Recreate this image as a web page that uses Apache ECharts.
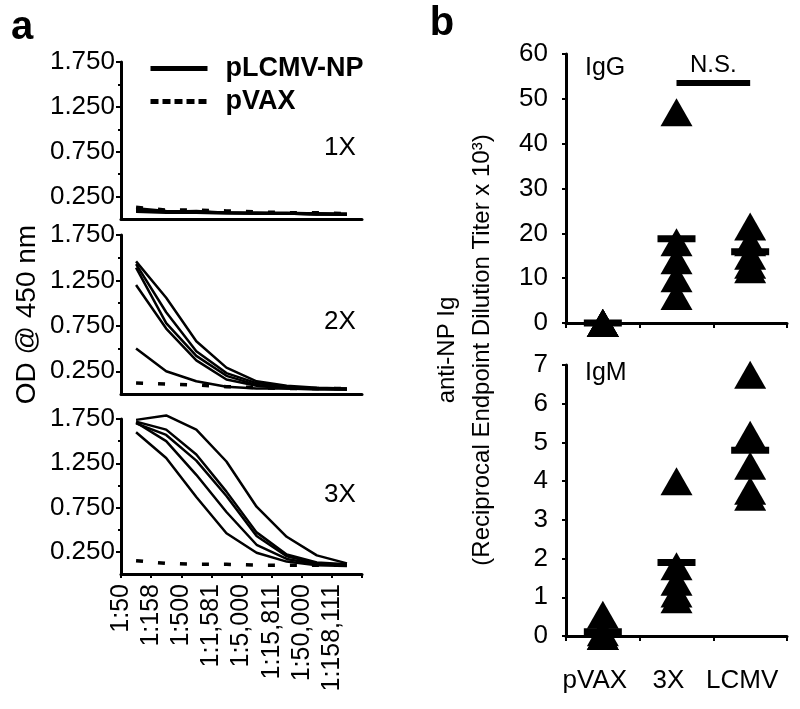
<!DOCTYPE html>
<html><head><meta charset="utf-8">
<script src="https://cdn.jsdelivr.net/npm/echarts@6/dist/echarts.min.js"></script>
<style>html,body{margin:0;padding:0;background:#fff}#c{width:800px;height:709px}</style>
</head><body><div id="c"></div>
<script>
// ---------- data: panel a (OD @ 450 nm by dilution) ----------
const dilutions = ['1:50','1:158','1:500','1:1,581','1:5,000','1:15,811','1:50,000','1:158,111'];
const odTicks = [0.25, 0.75, 1.25, 1.75];
const odMinorTicks = [0.5, 1.0, 1.5];

const np1X = [
  [0.10,0.08,0.08,0.07,0.07,0.07,0.06,0.06],
  [0.09,0.08,0.07,0.07,0.06,0.06,0.06,0.05],
  [0.12,0.09,0.08,0.07,0.07,0.06,0.06,0.05],
  [0.08,0.07,0.07,0.06,0.06,0.06,0.05,0.05],
  [0.11,0.08,0.09,0.07,0.06,0.06,0.05,0.05]
];
const pvax1X = [0.13,0.10,0.10,0.09,0.08,0.07,0.07,0.06];

const np2X = [
  [1.46,1.06,0.58,0.29,0.14,0.09,0.07,0.06],
  [1.43,0.90,0.47,0.23,0.12,0.08,0.06,0.06],
  [1.39,0.78,0.42,0.20,0.10,0.07,0.06,0.05],
  [1.20,0.72,0.37,0.16,0.09,0.06,0.06,0.05],
  [0.50,0.25,0.14,0.08,0.06,0.06,0.05,0.05]
];
const pvax2X = [0.12,0.11,0.10,0.08,0.07,0.06,0.06,0.06];

const np3X = [
  [1.74,1.79,1.63,1.27,0.76,0.42,0.21,0.12],
  [1.72,1.63,1.35,0.93,0.47,0.22,0.13,0.11],
  [1.70,1.57,1.28,0.88,0.43,0.20,0.12,0.10],
  [1.71,1.50,1.12,0.70,0.33,0.17,0.11,0.10],
  [1.60,1.31,0.87,0.46,0.24,0.14,0.10,0.09]
];
const pvax3X = [0.15,0.12,0.11,0.11,0.10,0.10,0.10,0.10];

// ---------- data: panel b (anti-NP Ig titers x 10^3) ----------
const groups = ['pVAX','3X','LCMV'];
const igG_pVAX = [0,0,0,0,0];
const igG_3X   = [47,18,14,10,6];
const igG_LCMV = [21.5,18,15,13,12];
const igG_mean = [0,18.8,15.9];
const igM_pVAX = [0.55,0.1,0,0,0];
const igM_3X   = [4.0,1.8,1.4,1.1,0.95];
const igM_LCMV = [6.75,5.2,4.4,3.75,3.6];
const igM_mean = [0.11,1.9,4.8];
const nsPair = ['3X','LCMV'];
const nsLevel = 53.5;

// ---------- chart ----------
const FONT = 'Liberation Sans, Arial, Helvetica, sans-serif';
const BLACK = '#000';
const chart = echarts.init(document.getElementById('c'));

const toXY = vals => vals.map((v,i) => [i + 0.5, v]);

const aGrids = [
  {left:121, top:62, width:241, height:157},
  {left:121, top:235, width:241, height:159},
  {left:121, top:419, width:241, height:155}
];
const bGrids = [
  {left:566, top:54, width:221, height:269},
  {left:566, top:365, width:221, height:271}
];

const xAxes = [], yAxes = [], series = [];

aGrids.forEach((g, i) => {
  const isBottom = i === 2;
  xAxes.push({
    gridIndex:i, type:'value', min:0, max:dilutions.length, interval:1,
    axisLine:{show:true, onZero:false, lineStyle:{color:BLACK, width:3}},
    axisTick:{show:isBottom, length:4, lineStyle:{color:BLACK, width:2}},
    axisLabel:{show:isBottom, rotate:90, margin:10, fontSize:25, color:BLACK, fontFamily:FONT,
      formatter: v => dilutions[v] || ''},
    splitLine:{show:false}
  });
  yAxes.push({
    gridIndex:i, type:'value', min:0, max:1.75,
    axisLine:{show:true, lineStyle:{color:BLACK, width:3}},
    axisTick:{show:true, customValues:odTicks, length:5, lineStyle:{color:BLACK, width:2}},
    axisLabel:{customValues:odTicks, formatter: v => v.toFixed(3), fontSize:26, color:BLACK, fontFamily:FONT, margin:6},
    splitLine:{show:false},
    name: i === 1 ? 'OD @ 450 nm' : '',
    nameLocation:'middle', nameGap:80,
    nameTextStyle:{fontSize:28, color:BLACK, fontFamily:FONT}
  });
});
// minor ticks on panel a y axes
aGrids.forEach((g, i) => {
  yAxes.push({
    gridIndex:i, type:'value', min:0, max:1.75, position:'left',
    axisLine:{show:false},
    axisTick:{show:true, customValues:odMinorTicks, length:3, lineStyle:{color:BLACK, width:2}},
    axisLabel:{show:false}, splitLine:{show:false}
  });
});
bGrids.forEach((g, k) => {
  const gi = 3 + k;
  xAxes.push({
    gridIndex:gi, type:'category', data:groups, boundaryGap:true,
    axisLine:{show:true, lineStyle:{color:BLACK, width:3}},
    axisTick:{show:true, length:5, lineStyle:{color:BLACK, width:2}},
    axisLabel:{show:k === 1, interval:0, hideOverlap:false, margin:32, fontSize:26, color:BLACK, fontFamily:FONT,
      padding:[0,16,0,0]},
    splitLine:{show:false}
  });
  yAxes.push({
    gridIndex:gi, type:'value', min:0, max:k === 0 ? 60 : 7, interval:k === 0 ? 10 : 1,
    axisLine:{show:true, lineStyle:{color:BLACK, width:3}},
    axisTick:{show:true, length:4, lineStyle:{color:BLACK, width:2}},
    axisLabel:{fontSize:26, color:BLACK, fontFamily:FONT, margin:18},
    splitLine:{show:false}
  });
});

function addLines(idx, npSets, pvax) {
  npSets.forEach(vals => series.push({
    type:'line', name:'pLCMV-NP', xAxisIndex:idx, yAxisIndex:idx, data:toXY(vals),
    symbol:'none', clip:false, lineStyle:{color:BLACK, width:2.5}, itemStyle:{color:BLACK}, z:3, silent:true
  }));
  series.push({
    type:'line', name:'pVAX', xAxisIndex:idx, yAxisIndex:idx, data:toXY(pvax),
    symbol:'none', clip:false, lineStyle:{color:BLACK, width:3.5, type:[7,15]}, itemStyle:{color:BLACK}, z:2, silent:true
  });
}
addLines(0, np1X, pvax1X);
addLines(1, np2X, pvax2X);
addLines(2, np3X, pvax3X);

const pts = sets => sets.flatMap((vals, k) => vals.map(v => [groups[k], v]));
const tri = {type:'scatter', symbol:'triangle', symbolSize:[32,28], itemStyle:{color:BLACK, opacity:1}, silent:true};
const bar = {type:'scatter', symbol:'rect', symbolSize:[38,7], itemStyle:{color:BLACK, opacity:1}, silent:true, z:4};

series.push(Object.assign({}, tri, {name:'IgG', xAxisIndex:3, yAxisIndex:6, data:pts([igG_pVAX, igG_3X, igG_LCMV]),
  markLine:{silent:true, symbol:['none','none'], lineStyle:{color:BLACK, width:6, type:'solid'},
    label:{show:true, position:'middle', formatter:'N.S.', fontSize:24, color:BLACK, fontFamily:FONT, distance:6},
    data:[[{coord:[nsPair[0], nsLevel]}, {coord:[nsPair[1], nsLevel]}]]}}));
series.push(Object.assign({}, bar, {name:'IgG mean', xAxisIndex:3, yAxisIndex:6, data:igG_mean.map((v,k)=>[groups[k], v])}));
series.push(Object.assign({}, tri, {name:'IgM', xAxisIndex:4, yAxisIndex:7, data:pts([igM_pVAX, igM_3X, igM_LCMV])}));
series.push(Object.assign({}, bar, {name:'IgM mean', xAxisIndex:4, yAxisIndex:7, data:igM_mean.map((v,k)=>[groups[k], v])}));

const txt = (text, x, y, size, extra) => ({type:'text', x, y, silent:true,
  style:Object.assign({text, fontSize:size, fontFamily:FONT, fill:BLACK, align:'center', verticalAlign:'middle'}, extra || {})});

chart.setOption({
  backgroundColor:'#fff',
  animation:false,
  grid:[...aGrids, ...bGrids],
  xAxis:xAxes,
  yAxis:yAxes,
  legend:{
    left:148, top:55, padding:0, orient:'vertical', itemWidth:57, itemHeight:14, itemGap:6,
    selectedMode:false,
    data:[{name:'pLCMV-NP'}, {name:'pVAX', lineStyle:{type:[8,4]}}],
    lineStyle:{width:5},
    itemStyle:{opacity:0},
    textStyle:{fontSize:27, fontWeight:'bold', color:BLACK, fontFamily:FONT, lineHeight:26, padding:[0,0,0,13]}
  },
  graphic:[
    txt('a', 22, 28, 40, {fontWeight:'bold'}),
    txt('b', 442, 24, 40, {fontWeight:'bold'}),
    txt('1X', 340, 148, 26),
    txt('2X', 340, 322, 26),
    txt('3X', 340, 495, 26),
    txt('IgG', 585, 68, 25, {align:'left'}),
    txt('IgM', 585, 373, 25, {align:'left'}),
    Object.assign(txt('anti-NP Ig\n(Reciprocal Endpoint Dilution Titer x 10³)', 465, 350, 24, {lineHeight:35}), {rotation:Math.PI/2})
  ],
  series
});
</script></body></html>
